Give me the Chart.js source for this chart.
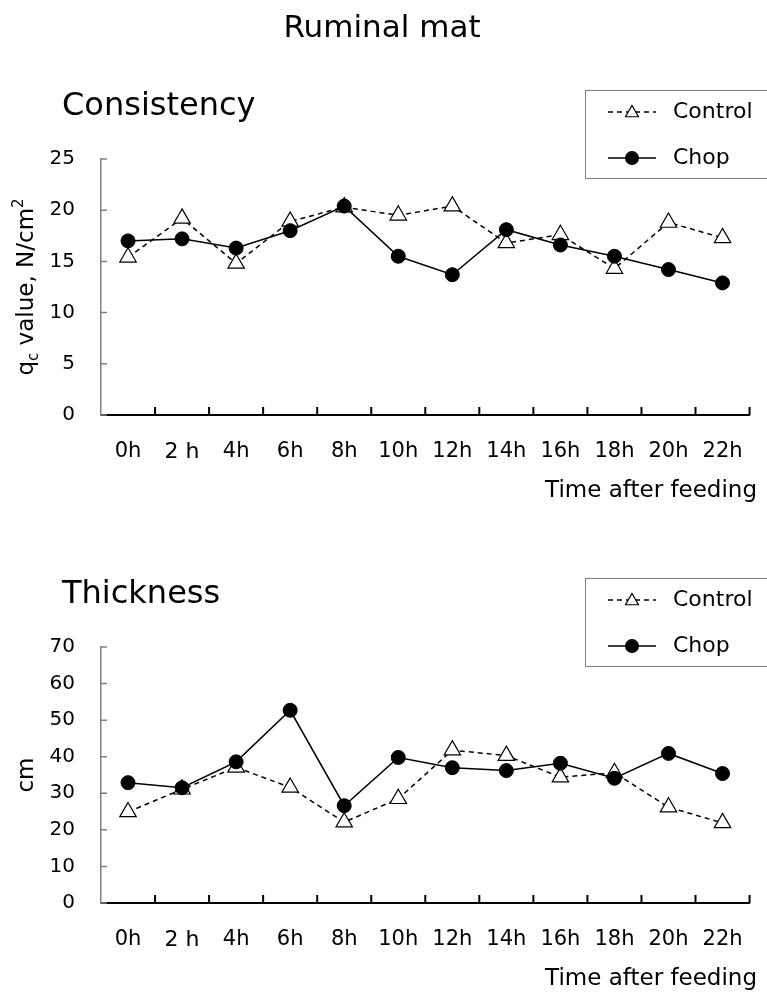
<!DOCTYPE html>
<html>
<head>
<meta charset="utf-8">
<script src="https://cdn.jsdelivr.net/npm/chart.js@4/dist/chart.umd.min.js"></script>
<style>
  body { margin: 0; background: #fff; }
  #wrap { position: relative; width: 767px; height: 994px; overflow: hidden; }
  .box { position: absolute; left: 0; width: 767px; height: 506px; }
</style>
</head>
<body>
<div id="wrap">
  <div class="box" style="top:0"><canvas id="consistency" width="767" height="506"></canvas></div>
  <div class="box" style="top:488px"><canvas id="thickness" width="767" height="506"></canvas></div>
</div>
<script>
// time points
var hours = ['0h', '2 h', '4h', '6h', '8h', '10h', '12h', '14h', '16h', '18h', '20h', '22h'];

// consistency, qc value N/cm2
var consistencyControl = [15.4, 19.2, 14.8, 18.9, 20.3, 19.5, 20.4, 16.8, 17.6, 14.3, 18.8, 17.3];
var consistencyChop    = [17.0, 17.2, 16.3, 18.0, 20.4, 15.5, 13.7, 18.1, 16.6, 15.5, 14.2, 12.9];
var consistencyMax = 25, consistencyStep = 5;

// thickness, cm
var thicknessControl = [24.9, 31.1, 37.1, 31.6, 22.1, 28.5, 41.8, 40.3, 34.4, 35.6, 26.2, 21.9];
var thicknessChop    = [32.9, 31.5, 38.6, 52.7, 26.6, 39.8, 37.0, 36.2, 38.2, 34.1, 40.9, 35.4];
var thicknessMax = 70, thicknessStep = 10;

var FONT = "'DejaVu Sans', sans-serif";
Chart.defaults.font.family = FONT;
Chart.defaults.color = '#000';

function drawTriangle(ctx, x, y, r) {
    ctx.beginPath();
    for (var k = 0; k < 3; k++) {
        var ang = k * 2 * Math.PI / 3;
        var px = x + Math.sin(ang) * r, py = y - Math.cos(ang) * r;
        if (k === 0) ctx.moveTo(px, py); else ctx.lineTo(px, py);
    }
    ctx.closePath();
    ctx.fillStyle = '#fff';
    ctx.fill();
    ctx.setLineDash([]);
    ctx.lineWidth = 1.2;
    ctx.strokeStyle = '#000';
    ctx.stroke();
}

var deco = {
    id: 'deco',
    afterDraw: function(chart, args, opts) {
        var ctx = chart.ctx, a = chart.chartArea;
        var xs = chart.scales.x, ys = chart.scales.y;
        ctx.save();

        // tick marks pointing inwards
        ctx.strokeStyle = '#000';
        ctx.lineWidth = 2;
        ctx.beginPath();
        var n = xs.ticks.length;
        for (var i = 1; i <= n; i++) {
            var px = i < n ? (xs.getPixelForTick(i - 1) + xs.getPixelForTick(i)) / 2 : a.right;
            ctx.moveTo(px, a.bottom);
            ctx.lineTo(px, a.bottom - 8);
        }
        ctx.stroke();
        ctx.strokeStyle = '#808080';
        ctx.lineWidth = 1.5;
        ctx.beginPath();
        ys.ticks.forEach(function(t) {
            var py = ys.getPixelForValue(t.value);
            ctx.moveTo(a.left, py);
            ctx.lineTo(a.left + 6, py);
        });
        ctx.stroke();

        ctx.fillStyle = '#000';
        ctx.textBaseline = 'alphabetic';

        if (opts.title) {
            ctx.font = '31px ' + FONT;
            ctx.textAlign = 'center';
            ctx.fillText(opts.title, 382, 37);
        }

        ctx.font = '32px ' + FONT;
        ctx.textAlign = 'left';
        ctx.fillText(opts.subtitle, 62, a.top - 44);

        ctx.font = '23px ' + FONT;
        ctx.textAlign = 'right';
        ctx.fillText('Time after feeding', 757, a.bottom + 82);

        // y axis title, with sub/superscripts
        var size = 23, small = Math.round(size * 0.65);
        var parts = opts.yTitle;
        var total = 0;
        parts.forEach(function(p) {
            ctx.font = (p.sub || p.sup ? small : size) + 'px ' + FONT;
            p.w = ctx.measureText(p.t).width;
            total += p.w;
        });
        ctx.save();
        ctx.translate(33, (a.top + a.bottom) / 2);
        ctx.rotate(-Math.PI / 2);
        ctx.textAlign = 'left';
        var cx = -total / 2;
        parts.forEach(function(p) {
            ctx.font = (p.sub || p.sup ? small : size) + 'px ' + FONT;
            var dy = p.sub ? size * 0.2 : (p.sup ? -size * 0.42 : 0);
            ctx.fillText(p.t, cx, dy);
            cx += p.w;
        });
        ctx.restore();

        // legend box
        var top = a.top - 69;
        ctx.strokeStyle = '#808080';
        ctx.lineWidth = 1;
        ctx.setLineDash([]);
        ctx.strokeRect(585.5, top + 0.5, 200, 88);

        var rows = [top + 22, top + 68];
        ctx.strokeStyle = '#000';
        ctx.lineWidth = 1.5;
        ctx.setLineDash([5, 4]);
        ctx.beginPath();
        ctx.moveTo(608, rows[0]);
        ctx.lineTo(656, rows[0]);
        ctx.stroke();
        drawTriangle(ctx, 632, rows[0] + 1, 7.5);

        ctx.setLineDash([]);
        ctx.lineWidth = 1.5;
        ctx.beginPath();
        ctx.moveTo(608, rows[1]);
        ctx.lineTo(656, rows[1]);
        ctx.stroke();
        ctx.beginPath();
        ctx.arc(632, rows[1], 7, 0, Math.PI * 2);
        ctx.fillStyle = '#000';
        ctx.fill();

        ctx.font = '22px ' + FONT;
        ctx.textAlign = 'left';
        ctx.textBaseline = 'middle';
        ctx.fillText('Control', 673, rows[0]);
        ctx.fillText('Chop', 673, rows[1]);

        ctx.restore();
    }
};

function makeChart(id, control, chop, maxY, step, decoOpts) {
    return new Chart(document.getElementById(id), {
        type: 'line',
        data: {
            labels: hours,
            datasets: [{
                label: 'Control',
                data: control,
                order: 2,
                borderColor: '#000',
                borderWidth: 1.5,
                borderDash: [5, 4],
                pointStyle: 'triangle',
                pointRadius: 9.5,
                pointBackgroundColor: '#fff',
                pointBorderColor: '#000',
                pointBorderWidth: 1.2,
                tension: 0
            }, {
                label: 'Chop',
                data: chop,
                order: 1,
                borderColor: '#000',
                borderWidth: 1.5,
                pointStyle: 'circle',
                pointRadius: 7,
                pointBackgroundColor: '#000',
                pointBorderColor: '#000',
                pointBorderWidth: 1,
                tension: 0
            }]
        },
        options: {
            responsive: false,
            animation: false,
            devicePixelRatio: 1,
            layout: { padding: { top: 159, right: 7, bottom: 0, left: 0 } },
            plugins: {
                legend: { display: false },
                tooltip: { enabled: false },
                deco: decoOpts
            },
            scales: {
                x: {
                    offset: true,
                    afterFit: function(s) { s.height = 91; },
                    grid: { drawOnChartArea: false, drawTicks: false },
                    border: { color: '#000', width: 2 },
                    ticks: {
                        padding: 24,
                        font: function(c) { return { size: c.index === 1 ? 22 : 21 }; },
                        color: '#000'
                    }
                },
                y: {
                    min: 0,
                    max: maxY,
                    afterFit: function(s) { s.width = 101; },
                    grid: { drawOnChartArea: false, drawTicks: false },
                    border: { color: '#808080', width: 1.5 },
                    ticks: { stepSize: step, padding: 26, font: { size: 20 }, color: '#000' }
                }
            }
        },
        plugins: [deco]
    });
}

makeChart('consistency', consistencyControl, consistencyChop, consistencyMax, consistencyStep, {
    title: 'Ruminal mat',
    subtitle: 'Consistency',
    yTitle: [{ t: 'q' }, { t: 'c', sub: true }, { t: ' value, N/cm' }, { t: '2', sup: true }]
});
makeChart('thickness', thicknessControl, thicknessChop, thicknessMax, thicknessStep, {
    subtitle: 'Thickness',
    yTitle: [{ t: 'cm' }]
});
</script>
</body>
</html>
